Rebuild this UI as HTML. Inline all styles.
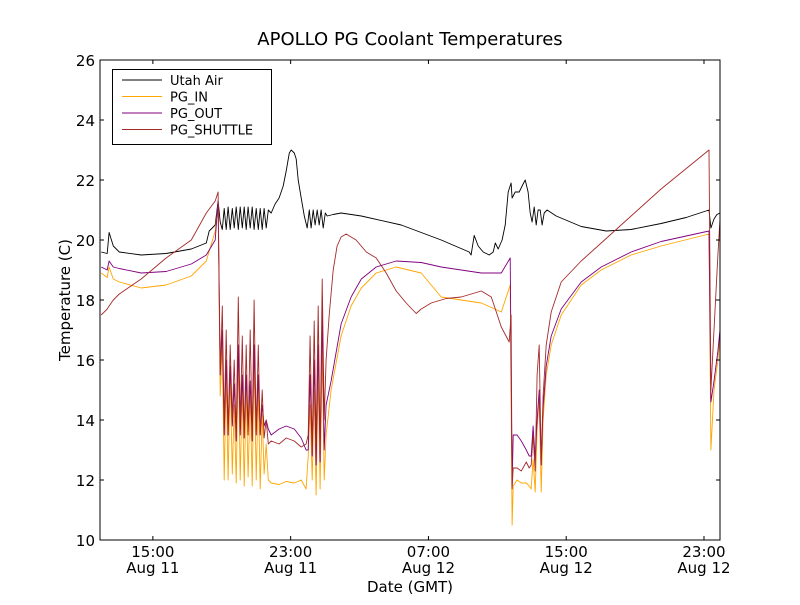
<!DOCTYPE html>
<html><head><meta charset="utf-8"><style>
body{margin:0;background:#fff;}
svg text{font-family:"DejaVu Sans","Liberation Sans",sans-serif;}
</style></head><body>
<svg id="chart" width="800" height="600" xmlns="http://www.w3.org/2000/svg">
<rect width="800" height="600" fill="#fff"/>
<text x="410" y="45" font-size="18" text-anchor="middle">APOLLO PG Coolant Temperatures</text>
<text x="410" y="592" font-size="15" text-anchor="middle">Date (GMT)</text>
<text transform="translate(70,300) rotate(-90)" font-size="15" text-anchor="middle">Temperature (C)</text>
<g id="plot"></g>
<g id="axes"></g>
<g id="legend"></g>
</svg>
<script>
const yTicks = [10,12,14,16,18,20,22,24,26];
const xTickHours = [15,23,31,39,47];
const xTickTime = ["15:00","23:00","07:00","15:00","23:00"];
const xTickDate = ["Aug 11","Aug 11","Aug 12","Aug 12","Aug 12"];
const seriesNames = ["Utah Air","PG_IN","PG_OUT","PG_SHUTTLE"];

const airTimes = [12.00,12.35,12.46,12.70,13.05,14.32,15.77,17.23,18.10,18.27,18.62,18.79,18.91,19.03,19.14,19.26,19.37,19.49,19.61,19.72,19.84,19.96,20.07,20.19,20.30,20.42,20.53,20.65,20.77,20.88,21.00,21.12,21.23,21.35,21.46,21.58,21.70,21.87,22.10,22.33,22.57,22.74,22.92,23.03,23.21,23.32,23.44,23.61,23.79,23.96,24.08,24.19,24.31,24.42,24.54,24.66,24.77,24.89,25.01,25.12,25.47,25.93,27.10,29.42,31.74,33.37,33.48,33.66,33.89,34.18,34.53,34.76,34.88,35.05,35.28,35.46,35.63,35.80,35.86,36.04,36.27,36.44,36.62,36.79,36.91,37.02,37.14,37.26,37.37,37.49,37.60,37.72,37.89,38.42,39.87,41.32,42.77,44.51,45.96,47.29,47.40,47.58,47.75,47.98];
const airValues = [19.6,19.55,20.25,19.8,19.6,19.5,19.55,19.7,19.9,20.3,20.5,21.3,20.6,20.35,21.05,20.35,21.1,20.35,21.05,20.4,21.1,20.35,21.1,20.4,21.1,20.35,21.1,20.4,21.1,20.35,21.05,20.35,21.05,20.35,21.05,20.4,21.0,20.9,21.2,21.4,21.8,22.3,22.9,23.0,22.9,22.7,22.0,21.4,20.8,20.4,21.0,20.4,21.0,20.5,21.0,20.5,21.0,20.4,20.9,20.8,20.85,20.9,20.8,20.5,20.0,19.6,19.5,20.15,19.8,19.6,19.5,19.6,19.9,19.7,20.0,20.5,21.6,21.9,21.4,21.6,21.6,21.8,22.0,21.6,20.9,20.6,21.1,20.5,21.0,21.0,20.5,20.9,21.0,20.8,20.45,20.3,20.35,20.55,20.75,21.0,20.4,20.7,20.85,20.9];

const segATimes = [12.00,12.35,12.46,12.70,13.05,14.32,15.77,17.23,18.10,18.62,18.79];
const segBTimes = [18.91,19.03,19.14,19.26,19.37,19.49,19.61,19.72,19.84,19.96,20.07,20.19,20.30,20.42,20.53,20.65,20.77,20.88,21.00,21.12,21.23,21.35,21.46,21.58,21.70];
const segCTimes = [21.87,22.33,22.74,23.21,23.61,23.90];
const segDTimes = [24.02,24.13,24.25,24.37,24.48,24.60,24.71,24.83,24.95,25.06];
const segETimes = [25.35,25.93,26.51,27.10,27.97,29.13,30.58,31.74,32.90,34.07,35.23,35.75];
const segEShuttleTimes = [25.24,25.47,25.70,25.93,26.22,26.80,27.39,27.97,28.55,29.13,29.71,30.29,30.58,31.16,32.03,32.90,34.07,34.65,34.94,35.23,35.69,35.80];
const segFTimes = [35.86,35.92,36.15,36.39,36.68,36.85,36.97,37.08,37.20,37.31,37.43,37.55,37.66,37.84,38.13,38.71,39.87,41.03,42.77,44.51,47.29];
const segGTimes = [47.40,47.58,47.81,47.98];

const inA = [18.9,18.75,19.1,18.7,18.6,18.4,18.5,18.8,19.3,20.3,21.2];
const inB = [14.8,16.5,12.0,15.5,12.0,15.5,12.2,14.5,11.9,16.2,12.0,15.0,11.8,15.0,12.1,14.8,11.8,16.0,12.0,15.0,11.7,14.2,12.2,13.2,12.0];
const inC = [11.9,11.85,11.95,11.9,12.0,11.7];
const inD = [12.8,14.5,12.0,15.0,11.5,15.5,11.7,16.3,12.0,13.5];
const inE = [15.0,16.8,17.8,18.4,18.9,19.1,18.9,18.1,18.0,17.9,17.6,18.5];
const inF = [10.5,11.8,12.0,11.9,11.9,11.8,11.7,12.7,11.6,13.7,14.7,11.6,14.0,15.5,16.5,17.5,18.5,19.0,19.5,19.8,20.2];
const inG = [13.0,15.0,16.0,16.8];

const outA = [19.1,19.0,19.3,19.1,19.05,18.9,18.95,19.2,19.5,20.0,21.3];
const outB = [15.5,17.0,13.5,16.0,13.5,15.8,13.8,15.2,13.3,16.5,13.5,15.5,13.4,15.5,13.6,15.3,13.3,16.5,13.5,15.5,13.5,14.5,13.8,14.0,13.7];
const outC = [13.5,13.7,13.8,13.7,13.4,13.0];
const outD = [13.0,15.5,12.8,16.0,12.5,16.5,12.6,17.5,13.0,14.5];
const outE = [15.3,17.2,18.1,18.7,19.1,19.3,19.25,19.1,19.0,18.9,18.9,19.4];
const outF = [11.8,13.5,13.5,13.3,13.0,12.8,12.8,13.8,12.7,14.0,15.0,12.5,14.4,15.8,16.8,17.7,18.6,19.1,19.6,19.95,20.3];
const outG = [14.6,15.3,16.3,17.0];

const shA = [17.5,17.7,17.8,18.0,18.2,18.7,19.4,20.0,20.9,21.3,21.6];
const shB = [15.5,17.8,13.8,17.0,13.6,16.5,14.0,16.0,13.5,18.1,13.8,16.8,13.4,16.5,13.5,17.0,13.4,18.0,13.6,16.5,13.5,15.0,13.4,14.0,13.2];
const shC = [13.3,13.2,13.4,13.3,13.1,13.2];
const shD = [13.5,16.8,13.0,17.3,13.2,17.8,13.0,18.7,14.0,16.0];
const shE = [17.5,19.0,19.8,20.1,20.2,20.0,19.6,19.4,18.9,18.3,17.9,17.55,17.7,17.9,18.05,18.1,18.3,18.1,17.6,17.1,16.6,17.5];
const shF = [11.7,12.4,12.4,12.3,12.6,12.4,12.5,13.5,12.3,15.5,16.5,12.6,14.8,16.5,17.6,18.6,19.3,19.9,20.8,21.7,23.0];
const shG = [15.0,17.0,19.5,20.7];

const L=100,R=720,T=60,B=540, X0=11.93, X1=47.93, Y0=10, Y1=26;
function xs(h){return L+(h-X0)/(X1-X0)*(R-L);}
function ys(v){return B-(v-Y0)/(Y1-Y0)*(B-T);}
const NS="http://www.w3.org/2000/svg";
function mk(tag,attrs,parent){const e=document.createElementNS(NS,tag);for(const k in attrs)e.setAttribute(k,attrs[k]);parent.appendChild(e);return e;}
const cat=(...a)=>[].concat(...a);

const series=[
 {name:"utah-air-line",color:"#000000",t:airTimes,v:airValues},
 {name:"pg-in-line",color:"#ffa500",t:cat(segATimes,segBTimes,segCTimes,segDTimes,segETimes,segFTimes,segGTimes),v:cat(inA,inB,inC,inD,inE,inF,inG)},
 {name:"pg-out-line",color:"#800080",t:cat(segATimes,segBTimes,segCTimes,segDTimes,segETimes,segFTimes,segGTimes),v:cat(outA,outB,outC,outD,outE,outF,outG)},
 {name:"pg-shuttle-line",color:"#a52a2a",t:cat(segATimes,segBTimes,segCTimes,segDTimes,segEShuttleTimes,segFTimes,segGTimes),v:cat(shA,shB,shC,shD,shE,shF,shG)}
];
const plot=document.getElementById('plot');
series.forEach(s=>{
  const d=s.t.map((h,i)=>(i?"L":"M")+Math.min(R,Math.max(L,xs(h))).toFixed(1)+","+ys(s.v[i]).toFixed(1)).join("");
  const p=mk('path',{d:d,fill:"none",stroke:s.color,"stroke-width":0.9,"stroke-linejoin":"round"},plot);
  
  
});

const axes=document.getElementById('axes');
const frame=mk('rect',{x:L,y:T,width:R-L,height:B-T,fill:"none",stroke:"#000","stroke-width":1},axes);


yTicks.forEach(v=>{
  const y=ys(v);
  mk('line',{x1:L,y1:y,x2:L+4,y2:y,stroke:"#000"},axes);
  mk('line',{x1:R,y1:y,x2:R-4,y2:y,stroke:"#000"},axes);
  const t=mk('text',{x:L-5,y:y+6,"font-size":15,"text-anchor":"end"},axes);
  t.textContent=v;
  
  
});
xTickHours.forEach((h,i)=>{
  const x=xs(h);
  mk('line',{x1:x,y1:B,x2:x,y2:B-4,stroke:"#000"},axes);
  mk('line',{x1:x,y1:T,x2:x,y2:T+4,stroke:"#000"},axes);
  const t1=mk('text',{x:x,y:B+17,"font-size":15,"text-anchor":"middle"},axes);
  t1.textContent=xTickTime[i];
  
  
  const t2=mk('text',{x:x,y:B+33,"font-size":15,"text-anchor":"middle"},axes);
  t2.textContent=xTickDate[i];
  
  
});

const lg=document.getElementById('legend');
const box=mk('rect',{x:112.5,y:69.5,width:159,height:75,fill:"#fff",stroke:"#000","stroke-width":1},lg);


series.forEach((s,i)=>{
  const y=80+i*16.5;
  const ln=mk('line',{x1:122,y1:y,x2:162,y2:y,stroke:s.color,"stroke-width":0.9},lg);
  
  
  const t=mk('text',{x:170,y:y+5,"font-size":13},lg);
  t.textContent=seriesNames[i];
  
  
});
</script>
</body></html>
